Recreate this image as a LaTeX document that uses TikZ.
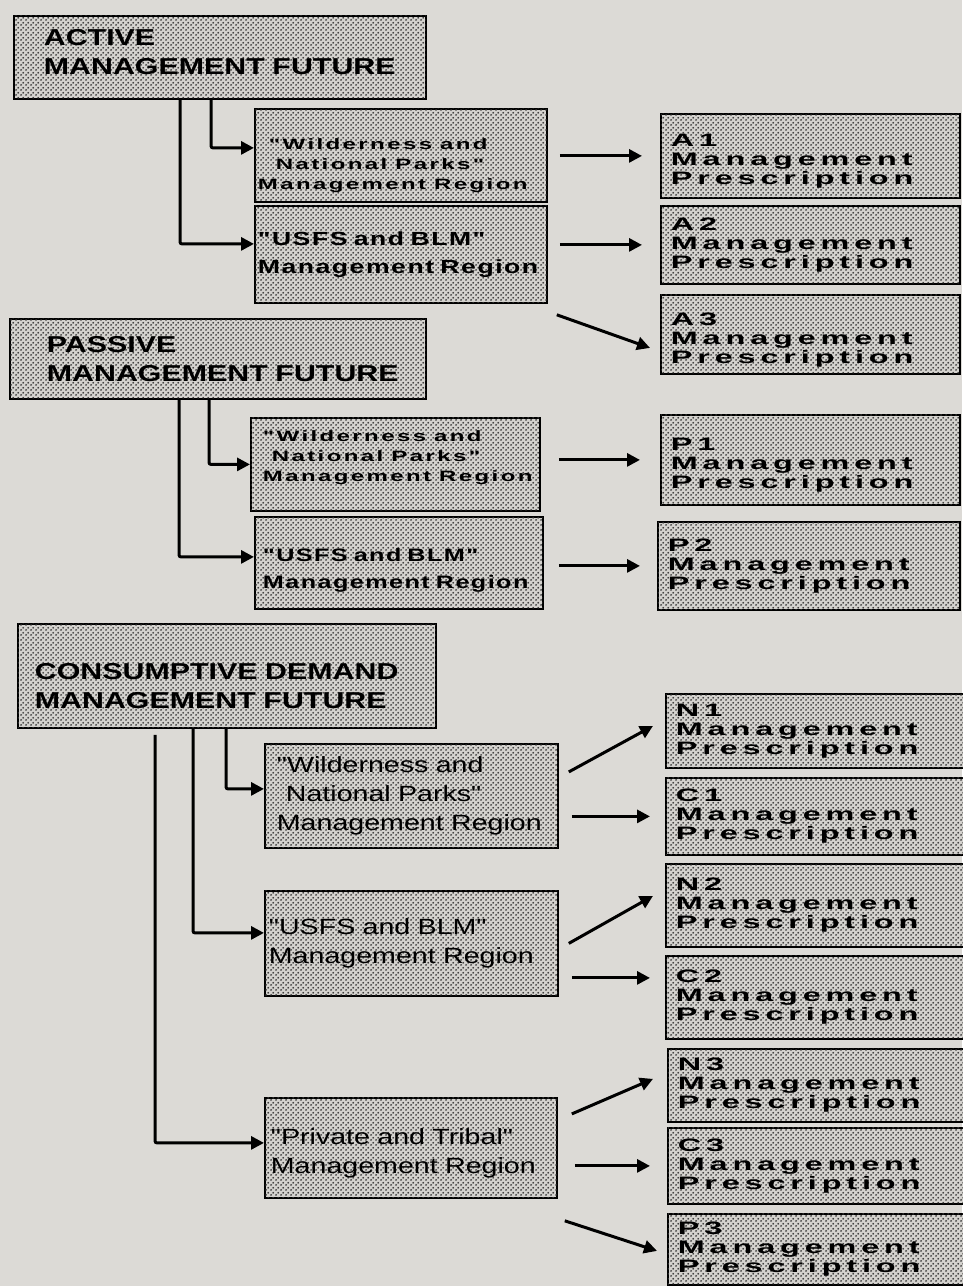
\documentclass[tikz,border=0pt]{standalone}
\usepackage{fontspec}
\setmainfont{Liberation Sans}
\newfontfamily\headfont[FakeStretch=1.32]{Liberation Sans}
\newfontfamily\regfont[FakeStretch=1.6,LetterSpace=16]{Liberation Sans}
\newfontfamily\regbigfont[FakeStretch=1.4,LetterSpace=8]{Liberation Sans}
\newfontfamily\plainfont[FakeStretch=1.3]{Liberation Sans}
\newfontfamily\presfont[FakeStretch=1.8,LetterSpace=27]{Liberation Sans}
\newcommand{\wsp}{\nobreak\hspace{8pt}}
\usetikzlibrary{arrows.meta,patterns.meta}
\definecolor{paper}{HTML}{DCDAD6}
\definecolor{boxbase}{HTML}{D4D2CE}
\pgfdeclarepattern{
  name=halftone,
  type=uncolored,
  bottom left={\pgfpoint{0pt}{0pt}},
  top right={\pgfpoint{5pt}{5pt}},
  tile size={\pgfpoint{5pt}{5pt}},
  code={
    \pgfpathcircle{\pgfpoint{1.25pt}{1.25pt}}{1.15pt}
    \pgfpathcircle{\pgfpoint{3.75pt}{3.75pt}}{1.15pt}
    \pgfusepath{fill}
  }
}

\begin{document}
\begin{tikzpicture}[x=1pt,y=-1pt,
    box/.style={draw,line width=1.8pt,fill=boxbase,postaction={pattern=halftone,pattern color=black!80},anchor=north west,inner ysep=0pt,align=left,execute at begin node={\hyphenpenalty=10000\relax}},
    futbox/.style={box,font=\headfont\bfseries\fontsize{23}{29}\selectfont},
    regbox/.style={box,font=\regfont\bfseries\fontsize{15}{20}\selectfont},
    regbigbox/.style={box,font=\regbigfont\bfseries\fontsize{19}{28}\selectfont},
    plainbox/.style={box,font=\plainfont\fontsize{22}{29}\selectfont},
    presbox/.style={box,font=\presfont\bfseries\fontsize{18}{19}\selectfont,minimum width=299,text width=279,inner xsep=10},
    feed/.style={line width=3pt,-{Triangle[length=13pt,width=13pt]},rounded corners=2pt}]
  \fill[paper](0,0)rectangle(962,1286);
  \useasboundingbox(0,0)rectangle(962,1286);
  % active future
  \node[futbox,minimum width=412,minimum height=83,text width=352,inner xsep=30,text depth=39pt](act)at(13,15){ACTIVE\\MANAGEMENT~FUTURE};
  \node[regbox,minimum width=292,minimum height=93,text width=286,inner xsep=3,text depth=23pt](actW)at(254,108){\hspace*{11pt}"Wilderness\wsp and\\\hspace*{18pt}National\wsp Parks"\\Management\wsp Region};
  \node[regbigbox,minimum width=292,minimum height=97,text width=286,inner xsep=3](actU)at(254,205){"USFS~and~BLM"\\Management~Region};
  \node[presbox,minimum height=84,text depth=32pt](A1)at(660,113){A1\\Management\\Prescription};
  \node[presbox,minimum height=78](A2)at(660,205){A2\\Management\\Prescription};
  \node[presbox,minimum height=79,text depth=30pt](A3)at(660,294){A3\\Management\\Prescription};
  \draw[feed]([xshift=198pt]act.south west)|-([yshift=7.5pt]actW.west);
  \draw[feed]([xshift=167pt]act.south west)|-([yshift=10.5pt]actU.west);
  \draw[feed]([xshift=12pt]actW.east|-A1.west)--([xshift=-18pt]A1.west);
  \draw[feed]([xshift=12pt]actU.east|-A2.west)--([xshift=-18pt]A2.west);
  \draw[feed]([xshift=9pt,yshift=-11pt]actU.south east)--([xshift=-10pt,yshift=-13.5pt]A3.west);
  % passive future
  \node[futbox,minimum width=416,minimum height=80,text width=342,inner xsep=37](pas)at(9,318){PASSIVE\\MANAGEMENT~FUTURE};
  \node[regbox,minimum width=289,minimum height=93,text width=265,inner xsep=12,text depth=57pt](pasW)at(250,417){"Wilderness\wsp and\\\hspace*{9pt}National\wsp Parks"\\Management\wsp Region};
  \node[regbigbox,font=\regbigfont\bfseries\fontsize{18}{27}\selectfont,minimum width=288,minimum height=92,text width=272,inner xsep=8,text depth=16pt](pasU)at(254,516){"USFS~and~BLM"\\Management~Region};
  \node[presbox,minimum height=90,text depth=32pt](P1)at(660,414){P1\\Management\\Prescription};
  \node[presbox,minimum width=302,text width=282,minimum height=88](P2)at(657,521){P2\\Management\\Prescription};
  \draw[feed]([xshift=200pt]pas.south west)|-(pasW.west);
  \draw[feed]([xshift=170pt]pas.south west)|-([yshift=6pt]pasU.west);
  \draw[feed]([xshift=18pt]pasW.east|-P1.west)--([xshift=-20pt]P1.west);
  \draw[feed]([xshift=15pt]pasU.east|-P2.west)--([xshift=-17pt]P2.west);
  % consumptive demand future
  \node[futbox,minimum width=418,minimum height=104,text width=384,inner xsep=17,text depth=9pt](con)at(17,623){CONSUMPTIVE~DEMAND\\MANAGEMENT~FUTURE};
  \node[plainbox,minimum width=293,minimum height=104,text width=269,inner xsep=12](conW)at(264,743){"Wilderness~and\\\hspace*{9pt}National~Parks"\\Management~Region};
  \node[plainbox,minimum width=293,minimum height=105,text width=285,inner xsep=4](conU)at(264,890){"USFS~and~BLM"\\Management~Region};
  \node[plainbox,minimum width=292,minimum height=100,text width=280,inner xsep=6,text depth=22pt](conT)at(264,1097){"Private~and~Tribal"\\Management~Region};
  \node[presbox,minimum height=74](N1)at(665,693){N1\\Management\\Prescription};
  \node[presbox,minimum height=77](C1)at(665,777){C1\\Management\\Prescription};
  \node[presbox,minimum height=83](N2)at(665,863){N2\\Management\\Prescription};
  \node[presbox,minimum height=83](C2)at(665,955){C2\\Management\\Prescription};
  \node[presbox,minimum height=73](N3)at(667,1048){N3\\Management\\Prescription};
  \node[presbox,minimum height=76](C3)at(667,1127){C3\\Management\\Prescription};
  \node[presbox,minimum height=71](P3)at(667,1213){P3\\Management\\Prescription};
  \draw[feed]([xshift=209pt]con.south west)|-([yshift=7pt]conW.west);
  \draw[feed]([xshift=176pt]con.south west)|-([yshift=10.5pt]conU.west);
  \draw[feed]([xshift=138pt,yshift=-6pt]con.south west)|-([yshift=5pt]conT.west);
  \draw[feed]([xshift=10pt,yshift=24pt]conW.east)--([xshift=-12pt,yshift=5pt]N1.west);
  \draw[feed]([xshift=13pt]conW.east|-C1.west)--([xshift=-15pt]C1.west);
  \draw[feed]([xshift=10pt]conU.east)--([xshift=-12pt,yshift=9.5pt]N2.west);
  \draw[feed]([xshift=13pt,yshift=-34.5pt]conU.east)--([xshift=-15pt,yshift=19.5pt]C2.west);
  \draw[feed]([xshift=14pt,yshift=34pt]conT.east)--([xshift=-14pt,yshift=6.5pt]N3.west);
  \draw[feed]([xshift=17pt]conT.east|-C3.west)--([xshift=-17pt]C3.west);
  \draw[feed]([xshift=7pt,yshift=-22pt]conT.south east)--([xshift=-10pt,yshift=-1.5pt]P3.west);
\end{tikzpicture}
\end{document}
